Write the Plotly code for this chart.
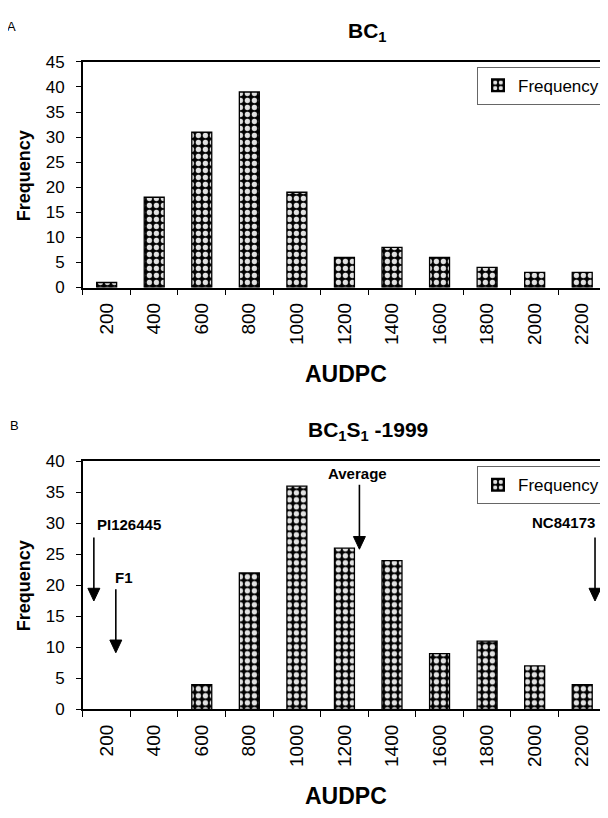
import plotly.graph_objects as go

# ---- data ----
audpc_classes = ["200", "400", "600", "800", "1000", "1200", "1400", "1600", "1800", "2000", "2200"]
bc1_frequency = [1, 18, 31, 39, 19, 6, 8, 6, 4, 3, 3]
bc1s1_frequency = [0, 0, 4, 22, 36, 26, 24, 9, 11, 7, 4]
top_y_ticks = [0, 5, 10, 15, 20, 25, 30, 35, 40, 45]
bottom_y_ticks = [0, 5, 10, 15, 20, 25, 30, 35, 40]

# The page body adds an 8px margin, so the figure is drawn 8px smaller and
# all layout positions are given in page pixels and converted.
OFF = 8
W, H = 608 - OFF, 818 - OFF
FONT = "Liberation Sans, Arial, sans-serif"


def px(x):
    return (x - OFF) / W


def py(y):
    return 1 - (y - OFF) / H


pattern = dict(shape=".", bgcolor="black", fgcolor="#e2e2e2", size=7, solidity=0.45, fillmode="replace")


def bar(xs, ys, xa, ya, leg):
    return go.Bar(
        x=xs, y=ys, name="Frequency", xaxis=xa, yaxis=ya, legend=leg,
        marker=dict(color="black", pattern=pattern,
                    line=dict(color="black", width=[1.3 if v > 0 else 0 for v in ys])),
    )


fig = go.Figure()
fig.add_trace(bar(audpc_classes, bc1_frequency, "x", "y", "legend"))
fig.add_trace(bar(audpc_classes, bc1s1_frequency, "x2", "y2", "legend2"))

xcommon = dict(
    type="category", showline=True, linecolor="black", linewidth=1.5, mirror=True,
    ticks="outside", tickson="boundaries", ticklen=6, tickcolor="black", tickwidth=1,
    tickangle=-90, tickfont=dict(family=FONT, size=19, color="black"),
    showgrid=False, zeroline=False, ticklabelstandoff=6,
)
ycommon = dict(
    showline=True, linecolor="black", linewidth=1.5, mirror=True,
    ticks="outside", ticklen=5, tickcolor="black", tickwidth=1,
    tickfont=dict(family=FONT, size=17, color="black"),
    showgrid=False, zeroline=False, dtick=5, ticklabelstandoff=8,
)

legcommon = dict(
    font=dict(family=FONT, size=17, color="black"), bgcolor="white",
    bordercolor="#666666", borderwidth=1, xanchor="right", yanchor="top",
    itemwidth=30, itemsizing="constant",
)

fig.update_layout(
    width=W, height=H, margin=dict(l=0, r=0, t=0, b=0),
    paper_bgcolor="white", plot_bgcolor="white",
    bargap=0.58, showlegend=True,
    xaxis=dict(domain=[px(83), px(607)], anchor="y", **xcommon),
    yaxis=dict(domain=[py(285), py(54)], anchor="x", range=[0, 45],
               tickvals=top_y_ticks, **ycommon),
    xaxis2=dict(domain=[px(83), px(607)], anchor="y2", **xcommon),
    yaxis2=dict(domain=[py(717), py(463)], anchor="x2", range=[0, 40],
                tickvals=bottom_y_ticks, **ycommon),
    legend=dict(x=px(606), y=py(59), **legcommon),
    legend2=dict(x=px(606), y=py(468), **legcommon),
)

ann = []
shapes = []


def text(x, y, s, size, bold=True, angle=0, xanchor="center"):
    ann.append(dict(
        x=px(x), y=py(y), xref="paper", yref="paper", showarrow=False,
        text=f"<b>{s}</b>" if bold else s, textangle=angle,
        font=dict(family=FONT, size=size, color="black"),
        xanchor=xanchor, yanchor="middle",
    ))


def arrow(x, y_tail, y_tip, head_w=12, head_h=13):
    shapes.append(dict(
        type="line", xref="paper", yref="paper",
        x0=px(x), x1=px(x), y0=py(y_tail), y1=py(y_tip - head_h + 1),
        line=dict(color="black", width=1.6),
    ))
    shapes.append(dict(
        type="path", xref="paper", yref="paper",
        path=(f"M {px(x - head_w / 2)} {py(y_tip - head_h)} "
              f"L {px(x + head_w / 2)} {py(y_tip - head_h)} "
              f"L {px(x)} {py(y_tip)} Z"),
        fillcolor="black", line=dict(color="black", width=1),
    ))


# panel labels
text(12, 18, "A", 13, bold=False)
text(15, 426, "B", 13, bold=False)
# titles
text(368, 23, "BC<sub>1</sub>", 21)
text(369, 432, "BC<sub>1</sub>S<sub>1</sub> -1999", 21)
# axis titles
text(24, 170, "Frequency", 18, angle=-90)
text(24, 590, "Frequency", 18, angle=-90)
text(347, 374, "AUDPC", 23)
text(347, 806, "AUDPC", 23)
# bottom-panel markers
text(129, 528, "PI126445", 15)
arrow(94, 541, 606)
text(124, 582, "F1", 15)
arrow(116, 594, 659)
text(358, 475, "Average", 15)
arrow(360, 487, 553)
text(564, 526, "NC84173", 15)
arrow(596, 541, 606)

fig.update_layout(annotations=ann, shapes=shapes)
fig.write_html("out.html")
